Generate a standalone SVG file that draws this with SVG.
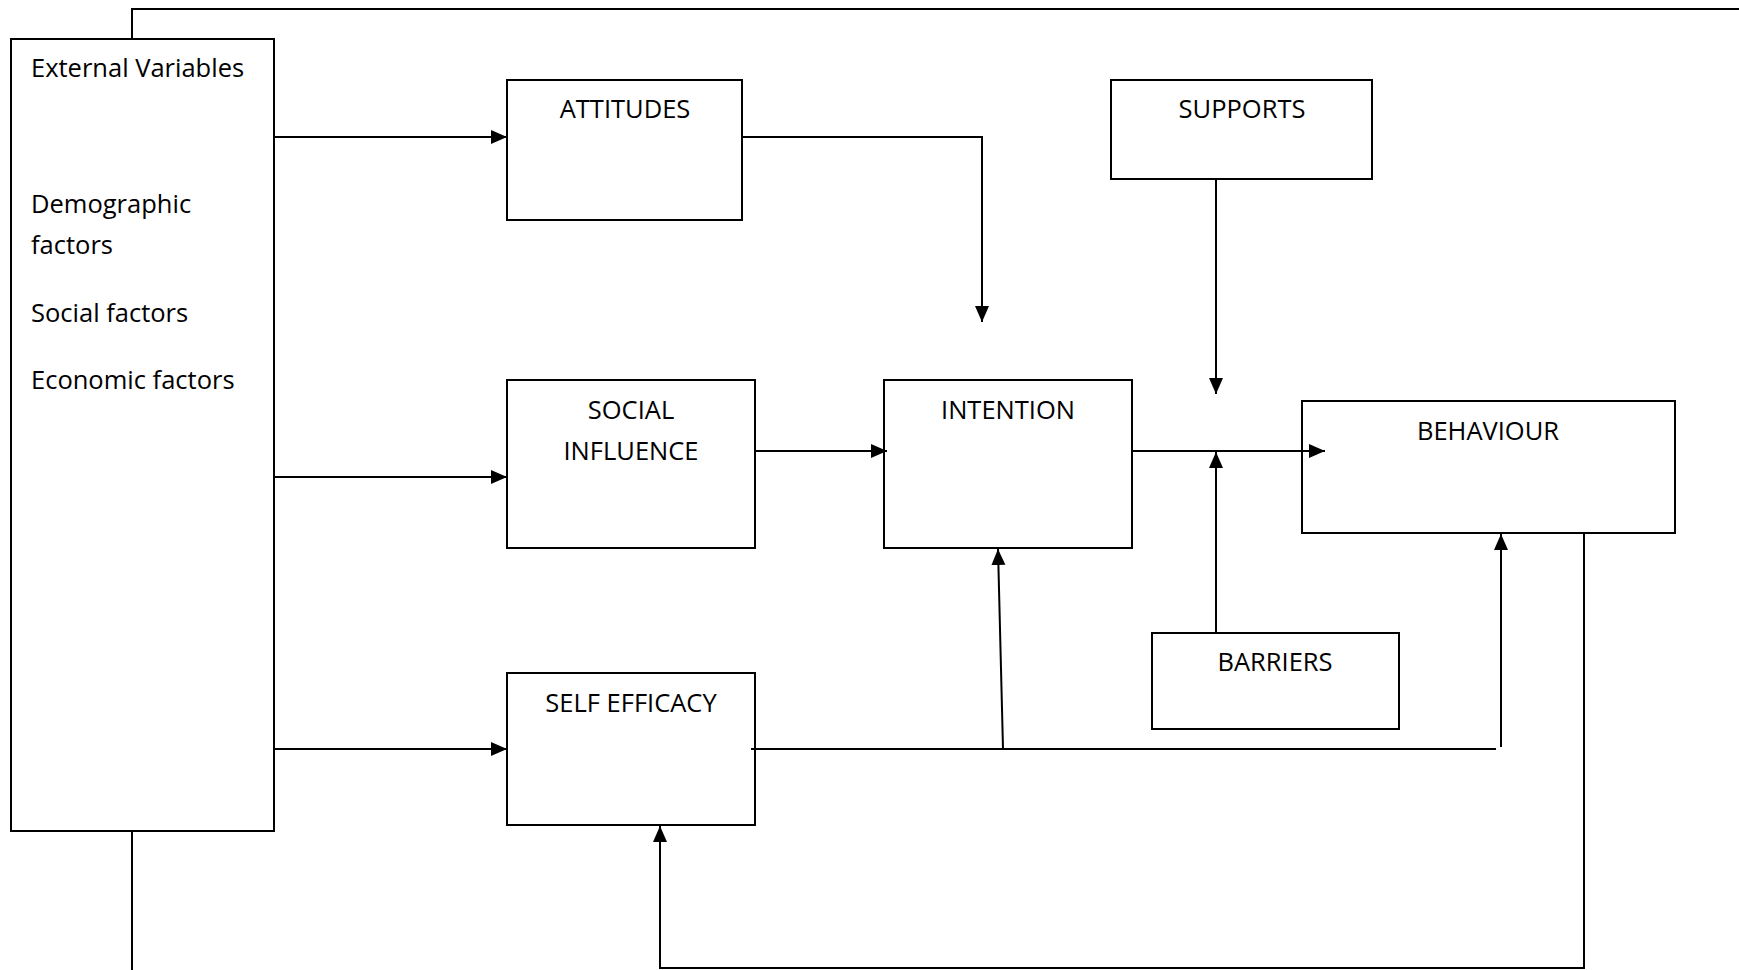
<svg xmlns="http://www.w3.org/2000/svg" width="1739" height="970" viewBox="0 0 1739 970">
<style>
.box{fill:#fff;stroke:#000;stroke-width:2}
.ln{fill:none;stroke:#000;stroke-width:2}
.t{font-family:"Open Sans","Liberation Sans",sans-serif;font-size:25.5px;fill:#000}
.c{text-anchor:middle}
</style>
<defs>
<marker id="ah" markerUnits="userSpaceOnUse" markerWidth="18" markerHeight="16" refX="16" refY="7" orient="auto">
<path d="M0,0 L16,7 L0,14 Z" fill="#000"/>
</marker>
</defs>
<rect width="1739" height="970" fill="#fff"/>
<g id="external">
<rect class="box" x="11" y="39" width="263" height="792"/>
<text class="t" x="31" y="77">External Variables</text>
<text class="t" x="31" y="213">Demographic</text>
<text class="t" x="31" y="254">factors</text>
<text class="t" x="31" y="322">Social factors</text>
<text class="t" x="31" y="389">Economic factors</text>
</g>
<g id="attitudes">
<rect class="box" x="507" y="80" width="235" height="140"/>
<text class="t c" x="625" y="118">ATTITUDES</text>
</g>
<g id="supports">
<rect class="box" x="1111" y="80" width="261" height="99"/>
<text class="t c" x="1242" y="118">SUPPORTS</text>
</g>
<g id="social">
<rect class="box" x="507" y="380" width="248" height="168"/>
<text class="t c" x="631" y="419">SOCIAL</text>
<text class="t c" x="631" y="460">INFLUENCE</text>
</g>
<g id="intention">
<rect class="box" x="884" y="380" width="248" height="168"/>
<text class="t c" x="1008" y="419">INTENTION</text>
</g>
<g id="behaviour">
<rect class="box" x="1302" y="401" width="373" height="132"/>
<text class="t c" x="1488" y="440">BEHAVIOUR</text>
</g>
<g id="barriers">
<rect class="box" x="1152" y="633" width="247" height="96"/>
<text class="t c" x="1275" y="671">BARRIERS</text>
</g>
<g id="selfefficacy">
<rect class="box" x="507" y="673" width="248" height="152"/>
<text class="t c" x="631" y="712">SELF EFFICACY</text>
</g>
<g id="connectors">
<path class="ln" d="M132,39 V9 H1739"/>
<path class="ln" d="M132,831 V970"/>
<path class="ln" d="M274,137 H507" marker-end="url(#ah)"/>
<path class="ln" d="M742,137 H982 V322" marker-end="url(#ah)"/>
<path class="ln" d="M1216,179 V394" marker-end="url(#ah)"/>
<path class="ln" d="M274,477 H507" marker-end="url(#ah)"/>
<path class="ln" d="M755,451 H887" marker-end="url(#ah)"/>
<path class="ln" d="M1132,451 H1325" marker-end="url(#ah)"/>
<path class="ln" d="M1216,633 V452" marker-end="url(#ah)"/>
<path class="ln" d="M274,749 H507" marker-end="url(#ah)"/>
<path class="ln" d="M751,749 H1496"/>
<path class="ln" d="M1003,749 L998,549" marker-end="url(#ah)"/>
<path class="ln" d="M1501,747 V534" marker-end="url(#ah)"/>
<path class="ln" d="M1584,533 V968 H660 V826" marker-end="url(#ah)"/>
</g>
</svg>
